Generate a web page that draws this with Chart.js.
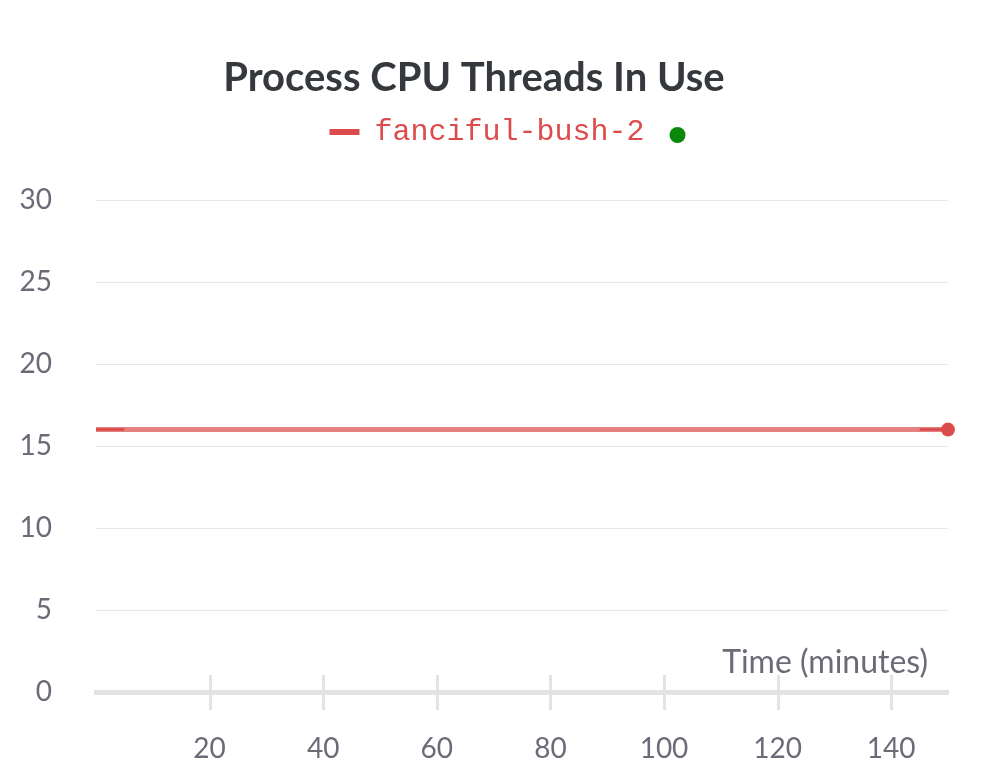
<!DOCTYPE html>
<html>
<head>
<meta charset="utf-8">
<script src="https://cdn.jsdelivr.net/npm/chart.js@4.4.1/dist/chart.umd.min.js"></script>
<style>
  html, body { margin: 0; padding: 0; background: #fff; }
  #wrap { width: 1008px; height: 783px; }
</style>
</head>
<body>
<div id="wrap"><canvas id="cpu-chart" width="1008" height="783"></canvas></div>
<script>
// run data
const runName = "fanciful-bush-2";
const times = [0, 5, 75, 145, 150];          // minutes
const smoothed = [16, 16, 16, 16, 16];        // threads (smoothed line)
const raw = [16, 16, null, 16, 16];           // raw line, only visible at the ends
const yTicks = [0, 5, 10, 15, 20, 25, 30];

const red = "#dc4c4c";
const tickColor = "#6b6b78";
const gridColor = "#e8e8e8";
const axisColor = "#e3e3e3";
const legendShift = 13;

// give the legend extra room below it, and centre it with the status dot
const legendSpace = {
  id: "legendSpace",
  beforeInit(chart) {
    const fit = chart.legend.fit;
    chart.legend.fit = function () {
      fit.bind(this)();
      this.height += 43;
    };
  },
  afterLayout(chart) {
    chart.legend.left += legendShift;
    chart.legend.right += legendShift;
  }
};

// extra drawing: upper half of x ticks, axis title, green status dot
const extras = {
  id: "extras",
  afterDraw(chart) {
    const c = chart.ctx;
    const x = chart.scales.x;
    const area = chart.chartArea;
    c.save();
    c.strokeStyle = axisColor;
    c.lineWidth = 3;
    x.ticks.forEach(t => {
      if (t.value === 0) return;
      const px = Math.round(x.getPixelForValue(t.value)) + 0.5;
      c.beginPath();
      c.moveTo(px, area.bottom - 17);
      c.lineTo(px, area.bottom + 18);
      c.stroke();
    });
    c.fillStyle = tickColor;
    c.font = "32px Lato";
    c.textAlign = "right";
    c.textBaseline = "middle";
    c.fillText("Time (minutes)", area.right - 20, area.bottom - 29);

    const hb = chart.legend.legendHitBoxes[0];
    if (hb) {
      c.fillStyle = "#0a880a";
      c.beginPath();
      c.arc(hb.left + hb.width + 33, hb.top + hb.height / 2 + 3, 8, 0, Math.PI * 2);
      c.fill();
    }
    c.restore();
  }
};

new Chart(document.getElementById("cpu-chart").getContext("2d"), {
  type: "line",
  data: {
    labels: times,
    datasets: [{
      label: runName,
      data: times.map((t, i) => ({ x: t, y: smoothed[i] })),
      borderColor: "rgba(220, 76, 76, 0.7)",
      backgroundColor: red,
      borderWidth: 5,
      pointRadius: times.map((t, i) => i === times.length - 1 ? 7 : 0),
      pointBackgroundColor: red,
      pointBorderWidth: 0,
      clip: false,
      tension: 0
    }, {
      label: "raw",
      data: times.map((t, i) => ({ x: t, y: raw[i] })),
      borderColor: "#d94545",
      borderWidth: 2.5,
      pointRadius: 0,
      spanGaps: false
    }]
  },
  options: {
    responsive: false,
    animation: false,
    layout: { padding: { left: 0, right: 60, top: 30, bottom: 0 } },
    plugins: {
      title: {
        display: true,
        text: "Process CPU Threads In Use",
        color: "#35393e",
        font: { family: "Lato", size: 40, weight: "bold" },
        padding: { top: 24, bottom: 15 }
      },
      legend: {
        display: true,
        labels: {
          boxWidth: 30,
          boxHeight: 6,
          padding: 0,
          color: red,
          font: { family: "Liberation Mono", size: 30 },
          generateLabels: chart => [{
            text: runName,
            fillStyle: red,
            strokeStyle: red,
            lineWidth: 0,
            fontColor: red,
            datasetIndex: 0
          }]
        }
      },
      tooltip: { enabled: false }
    },
    scales: {
      x: {
        type: "linear",
        min: 0,
        max: 150,
        afterFit: s => { s.height = 91; },
        grid: {
          drawOnChartArea: false,
          drawTicks: true,
          tickLength: 18,
          color: "rgba(0,0,0,0)"
        },
        border: { display: true, color: axisColor, width: 5 },
        ticks: {
          stepSize: 20,
          includeBounds: false,
          color: tickColor,
          padding: 22,
          font: { family: "Lato", size: 28 },
          callback: v => v === 0 ? "" : v
        }
      },
      y: {
        min: 0,
        max: 30,
        afterFit: s => { s.width = 96; },
        afterBuildTicks: s => { s.ticks = yTicks.map(v => ({ value: v })); },
        grid: {
          drawTicks: false,
          color: gridColor,
          lineWidth: 1
        },
        border: { display: false },
        ticks: {
          color: tickColor,
          padding: 44,
          font: { family: "Lato", size: 28 }
        }
      }
    }
  },
  plugins: [legendSpace, extras]
});
</script>
</body>
</html>
